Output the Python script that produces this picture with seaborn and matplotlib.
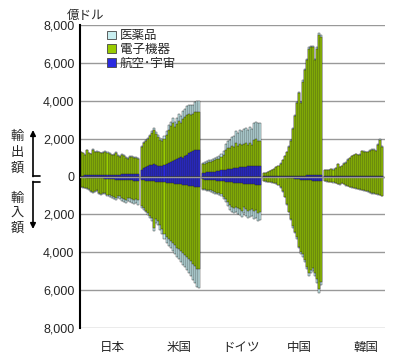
import numpy as np
import pandas as pd
import seaborn as sns
import matplotlib.pyplot as plt
from matplotlib.lines import Line2D
from matplotlib.patches import Patch

# 億ドル, 29 years per country; air = 航空・宇宙, elec = 電子機器, pharma = 医薬品
countries = ['日本', '米国', 'ドイツ', '中国', '韓国']

jp_exp_air = [50, 50, 55, 55, 60, 60, 65, 65, 70, 70, 75, 80, 80, 85, 90, 90, 95, 100, 100, 105, 110, 110, 115, 120, 120, 125, 130, 130, 130]
jp_exp_elec = [1230, 1180, 1075, 1320, 1165, 1115, 1360, 1205, 1250, 1200, 1145, 1185, 1235, 1180, 1120, 1020, 1065, 1155, 1005, 950, 1040, 990, 885, 825, 925, 920, 860, 860, 810]
jp_exp_pharma = [20, 20, 20, 25, 25, 25, 25, 30, 30, 30, 30, 35, 35, 35, 40, 40, 40, 45, 45, 45, 50, 50, 50, 55, 55, 55, 60, 60, 60]
jp_imp_air = [40, 45, 50, 55, 60, 65, 70, 75, 80, 85, 90, 100, 110, 120, 130, 140, 150, 160, 170, 180, 180, 190, 200, 210, 200, 210, 220, 230, 240]
jp_imp_elec = [490, 530, 545, 565, 610, 700, 740, 680, 650, 760, 850, 780, 760, 840, 870, 900, 930, 960, 840, 870, 960, 990, 1020, 900, 950, 980, 1010, 940, 1020]
jp_imp_pharma = [20, 25, 25, 30, 30, 35, 40, 45, 50, 55, 60, 70, 80, 90, 100, 110, 120, 130, 140, 150, 160, 170, 180, 190, 200, 210, 220, 230, 240]

us_exp_air = [350, 450, 500, 550, 600, 620, 650, 600, 580, 550, 550, 600, 650, 700, 750, 800, 850, 950, 1000, 1050, 1000, 1100, 1150, 1250, 1300, 1350, 1400, 1400, 1400]
us_exp_elec = [1200, 1300, 1390, 1440, 1530, 1700, 1810, 1650, 1500, 1370, 1300, 1380, 1550, 1770, 1900, 2020, 1750, 1820, 1950, 1770, 2050, 2020, 2100, 2070, 1950, 1930, 1990, 2000, 2000]
us_exp_pharma = [50, 50, 60, 60, 70, 80, 90, 100, 120, 130, 150, 170, 200, 230, 250, 280, 300, 330, 350, 380, 400, 430, 450, 480, 500, 520, 560, 600, 600]
us_imp_air = [200, 210, 220, 230, 240, 250, 260, 270, 280, 290, 300, 310, 320, 340, 350, 360, 380, 390, 400, 420, 430, 450, 460, 480, 500, 510, 530, 540, 550]
us_imp_elec = [1370, 1450, 1580, 1710, 1840, 1960, 2480, 2000, 2070, 2280, 2490, 2700, 2860, 2960, 3070, 3170, 3260, 3360, 3410, 3500, 3600, 3690, 3790, 3870, 3950, 4090, 4220, 4360, 4350]
us_imp_pharma = [80, 90, 100, 110, 120, 140, 160, 180, 200, 230, 260, 290, 320, 350, 380, 420, 460, 500, 540, 580, 620, 660, 700, 750, 800, 850, 900, 950, 1000]

de_exp_air = [200, 210, 220, 230, 240, 250, 260, 280, 300, 320, 330, 350, 370, 400, 420, 430, 450, 470, 480, 500, 520, 520, 530, 540, 540, 550, 560, 560, 560]
de_exp_elec = [440, 470, 500, 530, 540, 590, 620, 640, 650, 700, 800, 1070, 1130, 1100, 1180, 1120, 1300, 1130, 1220, 1150, 1180, 1230, 1120, 1210, 1110, 1400, 1440, 1340, 1340]
de_exp_pharma = [60, 70, 80, 90, 100, 110, 120, 130, 150, 180, 220, 280, 350, 450, 500, 600, 650, 700, 750, 750, 800, 800, 800, 850, 850, 900, 900, 900, 900]
de_imp_air = [150, 160, 170, 180, 190, 200, 210, 220, 230, 240, 250, 270, 290, 300, 310, 320, 330, 340, 350, 360, 370, 380, 390, 400, 410, 420, 430, 440, 450]
de_imp_elec = [500, 505, 520, 535, 540, 575, 610, 640, 640, 700, 820, 930, 1080, 1230, 1290, 1350, 1270, 1340, 1360, 1440, 1220, 1340, 1420, 1350, 1280, 1410, 1340, 1470, 1400]
de_imp_pharma = [50, 55, 60, 65, 70, 75, 80, 90, 100, 110, 130, 150, 180, 220, 250, 280, 300, 320, 340, 350, 360, 380, 390, 400, 410, 420, 430, 440, 450]

cn_exp_air = [10, 10, 10, 10, 10, 15, 15, 15, 20, 20, 20, 25, 25, 30, 30, 35, 40, 40, 45, 50, 50, 55, 60, 60, 60, 65, 70, 70, 70]
cn_exp_elec = [155, 190, 220, 265, 325, 390, 465, 545, 660, 830, 1055, 1255, 1545, 1860, 2470, 3165, 3855, 4370, 3840, 4965, 5580, 6090, 6695, 6775, 6770, 6065, 6670, 7420, 7310]
cn_exp_pharma = [10, 10, 10, 15, 15, 15, 20, 20, 20, 25, 25, 30, 30, 35, 40, 40, 45, 50, 55, 60, 60, 65, 70, 75, 80, 80, 85, 90, 90]
cn_imp_air = [20, 20, 20, 20, 25, 25, 30, 30, 35, 40, 50, 60, 70, 80, 100, 120, 140, 150, 160, 170, 180, 190, 200, 210, 220, 230, 240, 250, 250]
cn_imp_elec = [220, 240, 260, 265, 280, 300, 330, 400, 540, 730, 1015, 1400, 1780, 2160, 2530, 2800, 3070, 3550, 3830, 3940, 4210, 4580, 4900, 4720, 4590, 4860, 5180, 5700, 5300]
cn_imp_pharma = [10, 10, 10, 15, 15, 15, 20, 20, 25, 30, 35, 40, 50, 60, 70, 80, 90, 100, 110, 120, 130, 140, 150, 160, 170, 180, 190, 200, 200]

kr_exp_air = [10, 10, 10, 10, 10, 10, 15, 15, 15, 15, 15, 20, 20, 20, 20, 20, 25, 25, 25, 25, 30, 30, 30, 30, 35, 35, 35, 40, 40]
kr_exp_elec = [330, 310, 310, 360, 350, 420, 625, 495, 530, 670, 720, 865, 965, 1040, 1110, 1150, 1105, 1135, 1310, 1280, 1265, 1255, 1340, 1370, 1385, 1295, 1640, 1885, 1535]
kr_exp_pharma = [10, 10, 10, 10, 10, 10, 10, 10, 15, 15, 15, 15, 15, 20, 20, 20, 20, 20, 25, 25, 25, 25, 30, 30, 30, 30, 35, 35, 35]
kr_imp_air = [20, 20, 20, 20, 25, 25, 25, 25, 25, 30, 30, 30, 30, 35, 35, 35, 35, 40, 40, 40, 40, 45, 45, 45, 45, 50, 50, 50, 50]
kr_imp_elec = [220, 240, 250, 270, 285, 320, 360, 390, 310, 375, 430, 470, 510, 545, 575, 590, 620, 635, 665, 675, 710, 745, 785, 825, 845, 865, 895, 915, 965]
kr_imp_pharma = [10, 10, 10, 10, 10, 15, 15, 15, 15, 15, 20, 20, 20, 20, 20, 25, 25, 25, 25, 25, 30, 30, 30, 30, 30, 35, 35, 35, 35]

series = [
    (jp_exp_air, jp_exp_elec, jp_exp_pharma, jp_imp_air, jp_imp_elec, jp_imp_pharma),
    (us_exp_air, us_exp_elec, us_exp_pharma, us_imp_air, us_imp_elec, us_imp_pharma),
    (de_exp_air, de_exp_elec, de_exp_pharma, de_imp_air, de_imp_elec, de_imp_pharma),
    (cn_exp_air, cn_exp_elec, cn_exp_pharma, cn_imp_air, cn_imp_elec, cn_imp_pharma),
    (kr_exp_air, kr_exp_elec, kr_exp_pharma, kr_imp_air, kr_imp_elec, kr_imp_pharma),
]

# long table, one row per bar position (1 empty slot between countries)
rows = []
for i, s in enumerate(series):
    ea, ee, ep, ia, ie, ip = [np.array(v) for v in s]
    for k in range(len(ea)):
        rows.append({'pos': i * 30 + k,
                     'exp_air': ea[k], 'exp_elec': ea[k] + ee[k], 'exp_all': ea[k] + ee[k] + ep[k],
                     'imp_air': -ia[k], 'imp_elec': -(ia[k] + ie[k]), 'imp_all': -(ia[k] + ie[k] + ip[k])})
df = pd.DataFrame(rows)
n_slots = 30 * len(countries) - 1

c_pharma = '#c8eef0'
c_elec = '#99cc00'
c_air = '#2a2ae0'

sns.set_style('white')
plt.rcParams['font.family'] = ['Noto Sans CJK JP', 'DejaVu Sans']

fig = plt.figure(figsize=(4, 3.59), dpi=100)
ax = fig.add_axes([80 / 400, 1 - 328 / 359, 305 / 400, 303 / 359])

for col, c in [('exp_all', c_pharma), ('exp_elec', c_elec), ('exp_air', c_air),
               ('imp_all', c_pharma), ('imp_elec', c_elec), ('imp_air', c_air)]:
    sns.barplot(data=df, x='pos', y=col, order=list(range(n_slots)), color=c, width=1,
                edgecolor='#222222', linewidth=0.3, errorbar=None, saturation=1, ax=ax)

ax.set_ylim(-8000, 8000)
ax.set_xlim(-0.5, n_slots - 0.5 + 0.8)
ax.set_yticks(np.arange(-8000, 8001, 2000))
ax.set_yticklabels([f'{abs(v):,}' for v in range(-8000, 8001, 2000)], fontsize=9,
                   family=['Liberation Sans'])
ax.set_xticks([15.6, 48.3, 78.5, 107.3, 140])
ax.set_xticklabels(countries, fontsize=9)
ax.tick_params(axis='x', length=0, pad=9)
ax.tick_params(axis='y', direction='inout', length=4, width=1, pad=2)
ax.set_xlabel('')
ax.set_ylabel('')
ax.yaxis.grid(True, color='#999999', linewidth=1)
ax.set_axisbelow(True)
ax.axhline(0, color='#999999', linewidth=1, zorder=5)
for sp in ['top', 'right', 'bottom']:
    ax.spines[sp].set_visible(False)
ax.spines['left'].set_color('black')
ax.spines['left'].set_linewidth(1.5)

handles = [Patch(facecolor=c_pharma, edgecolor='#444444', linewidth=0.6),
           Patch(facecolor=c_elec, edgecolor='#444444', linewidth=0.6),
           Patch(facecolor=c_air, edgecolor='#444444', linewidth=0.6)]
fig.legend(handles, ['医薬品', '電子機器', '航空･宇宙'], loc='upper left',
           bbox_to_anchor=(101 / 400, 1 - 23 / 359), frameon=False, fontsize=9,
           handlelength=0.7, handleheight=0.7, handletextpad=0.3, labelspacing=0.05,
           borderpad=0)

fig.text(67 / 400, 1 - 15 / 359, '億ドル', fontsize=9, va='center', ha='left')

for k, ch in enumerate('輸出額'):
    fig.text(17 / 400, 1 - (136 + 16 * k) / 359, ch, fontsize=9.5, ha='center', va='center')
for k, ch in enumerate('輸入額'):
    fig.text(17 / 400, 1 - (198 + 15 * k) / 359, ch, fontsize=9.5, ha='center', va='center')

# up / down arrows with a small foot
fig.add_artist(Line2D([33 / 400, 40 / 400], [1 - 176 / 359, 1 - 176 / 359], color='black', lw=1.2))
fig.add_artist(Line2D([33 / 400, 40 / 400], [1 - 182 / 359, 1 - 182 / 359], color='black', lw=1.2))
ax.annotate('', xy=(33 / 400, 1 - 130 / 359), xytext=(33 / 400, 1 - 176.5 / 359),
            xycoords='figure fraction', textcoords='figure fraction',
            arrowprops=dict(arrowstyle='-|>', color='black', lw=1.2, mutation_scale=8,
                            shrinkA=0, shrinkB=0))
ax.annotate('', xy=(33 / 400, 1 - 229 / 359), xytext=(33 / 400, 1 - 181.5 / 359),
            xycoords='figure fraction', textcoords='figure fraction',
            arrowprops=dict(arrowstyle='-|>', color='black', lw=1.2, mutation_scale=8,
                            shrinkA=0, shrinkB=0))

plt.savefig('out.png', dpi=100)
